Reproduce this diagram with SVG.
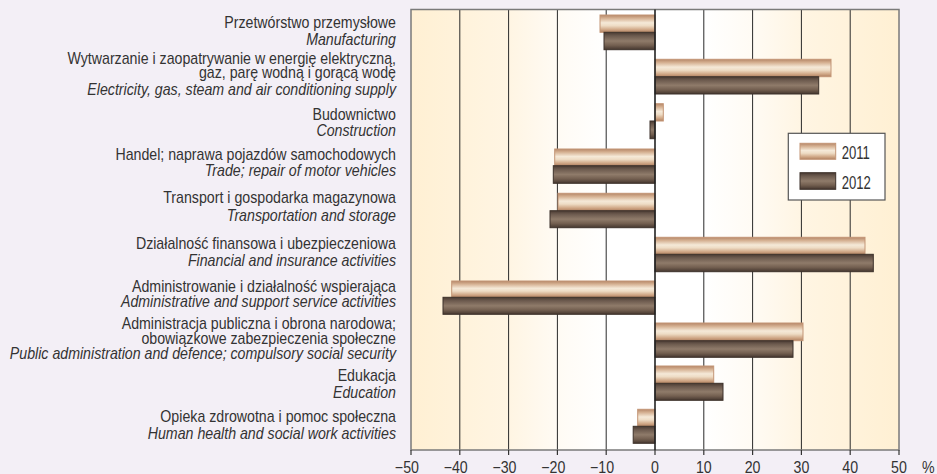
<svg xmlns="http://www.w3.org/2000/svg" width="937" height="474" viewBox="0 0 937 474">
<defs>
<linearGradient id="bg" x1="411" y1="0" x2="899" y2="0" gradientUnits="userSpaceOnUse">
<stop offset="0" stop-color="#fff0d3"/>
<stop offset="0.2" stop-color="#fff5e3"/>
<stop offset="0.3" stop-color="#fffbf4"/>
<stop offset="0.4" stop-color="#ffffff"/>
<stop offset="0.6" stop-color="#ffffff"/>
<stop offset="0.7" stop-color="#fffbf4"/>
<stop offset="0.8" stop-color="#fff5e3"/>
<stop offset="1" stop-color="#fff0d3"/>
</linearGradient>
<linearGradient id="g11" x1="0" y1="0" x2="0" y2="1">
<stop offset="0" stop-color="#b58769"/>
<stop offset="0.18" stop-color="#d4af90"/>
<stop offset="0.45" stop-color="#f5e9d8"/>
<stop offset="0.62" stop-color="#eedcc5"/>
<stop offset="0.85" stop-color="#cfa685"/>
<stop offset="1" stop-color="#b08162"/>
</linearGradient>
<linearGradient id="g12" x1="0" y1="0" x2="0" y2="1">
<stop offset="0" stop-color="#493a32"/>
<stop offset="0.2" stop-color="#6c5a4e"/>
<stop offset="0.5" stop-color="#8f7b6a"/>
<stop offset="0.75" stop-color="#735f50"/>
<stop offset="1" stop-color="#45372f"/>
</linearGradient>
<style>
.lab{font-family:"Liberation Sans",Arial,sans-serif;font-size:16px;fill:#333;text-anchor:end}
.it{font-style:italic}
.tk{font-family:"Liberation Sans",Arial,sans-serif;font-size:16px;fill:#333}
.grid{stroke:#2a2a2a;stroke-width:1}
.b11{fill:url(#g11);stroke:#c39576;stroke-width:1}
.b12{fill:url(#g12);stroke:#3d312a;stroke-width:1}
.leg{font-family:"Liberation Sans",Arial,sans-serif;font-size:17.5px;fill:#333}
</style>
</defs>
<rect x="0" y="0" width="937" height="474" fill="#f3eff6"/>
<rect x="411" y="9.5" width="488" height="440.5" fill="url(#bg)"/>
<g id="grid">
<line class="grid" x1="459.8" y1="9.5" x2="459.8" y2="450"/>
<line class="grid" x1="508.6" y1="9.5" x2="508.6" y2="450"/>
<line class="grid" x1="557.4" y1="9.5" x2="557.4" y2="450"/>
<line class="grid" x1="606.2" y1="9.5" x2="606.2" y2="450" stroke="#666"/>
<line class="grid" x1="703.8" y1="9.5" x2="703.8" y2="450" stroke="#666"/>
<line class="grid" x1="752.6" y1="9.5" x2="752.6" y2="450"/>
<line class="grid" x1="801.4" y1="9.5" x2="801.4" y2="450"/>
<line class="grid" x1="850.2" y1="9.5" x2="850.2" y2="450"/>
</g>
<rect x="411" y="9.5" width="488" height="440.5" fill="none" stroke="#7a7a7a" stroke-width="1.5"/>
<g id="bars">
<g id="manufacturing"><rect class="b11" x="600" y="15" width="55" height="17.3"/><rect class="b12" x="604" y="32.3" width="51" height="17.4"/></g>
<g id="electricity"><rect class="b11" x="655" y="59.3" width="176" height="17.4"/><rect class="b12" x="655" y="76.7" width="163.7" height="17.3"/></g>
<g id="construction"><rect class="b11" x="655" y="103.7" width="8.3" height="17.3"/><rect class="b12" x="650" y="121" width="5" height="17.7"/></g>
<g id="trade"><rect class="b11" x="554.7" y="149" width="100.3" height="16.7"/><rect class="b12" x="553.3" y="165.7" width="101.7" height="17.6"/></g>
<g id="transport"><rect class="b11" x="558" y="193.3" width="97" height="17.4"/><rect class="b12" x="550" y="210.7" width="105" height="17"/></g>
<g id="financial"><rect class="b11" x="655" y="237.3" width="210" height="17"/><rect class="b12" x="655" y="254.3" width="218.3" height="17.4"/></g>
<g id="administrative"><rect class="b11" x="451.7" y="281" width="203.3" height="16.3"/><rect class="b12" x="443" y="297.3" width="212" height="17"/></g>
<g id="public"><rect class="b11" x="655" y="323" width="148" height="17.7"/><rect class="b12" x="655" y="340.7" width="138" height="16.6"/></g>
<g id="education"><rect class="b11" x="655" y="366" width="58.7" height="17.3"/><rect class="b12" x="655" y="383.3" width="68" height="17"/></g>
<g id="health"><rect class="b11" x="637.7" y="409.3" width="17.3" height="17"/><rect class="b12" x="633.2" y="426.3" width="21.8" height="17"/></g>
</g>
<line x1="655" y1="9.5" x2="655" y2="450" stroke="#222" stroke-width="1.6"/>
<g id="axis" stroke="#333" stroke-width="1.2">
<line x1="411" y1="450" x2="411" y2="455"/>
<line x1="459.8" y1="450" x2="459.8" y2="455"/>
<line x1="508.6" y1="450" x2="508.6" y2="455"/>
<line x1="557.4" y1="450" x2="557.4" y2="455"/>
<line x1="606.2" y1="450" x2="606.2" y2="455"/>
<line x1="655" y1="450" x2="655" y2="455"/>
<line x1="703.8" y1="450" x2="703.8" y2="455"/>
<line x1="752.6" y1="450" x2="752.6" y2="455"/>
<line x1="801.4" y1="450" x2="801.4" y2="455"/>
<line x1="850.2" y1="450" x2="850.2" y2="455"/>
<line x1="899" y1="450" x2="899" y2="455"/>
</g>
<g id="ticklabels" transform="matrix(0.887 0 0 1 0 0)">
<text class="tk" text-anchor="end" x="472.3" y="473.5">−50</text>
<text class="tk" text-anchor="end" x="527.3" y="473.5">−40</text>
<text class="tk" text-anchor="end" x="582.3" y="473.5">−30</text>
<text class="tk" text-anchor="end" x="637.3" y="473.5">−20</text>
<text class="tk" text-anchor="end" x="692.3" y="473.5">−10</text>
<text class="tk" text-anchor="middle" x="738.4" y="473.5">0</text>
<text class="tk" text-anchor="middle" x="793.5" y="473.5">10</text>
<text class="tk" text-anchor="middle" x="848.5" y="473.5">20</text>
<text class="tk" text-anchor="middle" x="903.5" y="473.5">30</text>
<text class="tk" text-anchor="middle" x="958.5" y="473.5">40</text>
<text class="tk" text-anchor="middle" x="1013.5" y="473.5">50</text>
<text class="tk" text-anchor="middle" x="1046.5" y="473.5">%</text>
</g>
<g id="labels" transform="matrix(0.887 0 0 1 396 0)">
<text class="lab" x="0" y="27.8">Przetwórstwo przemysłowe</text>
<text class="lab it" x="0" y="45.5">Manufacturing</text>
<text class="lab" x="0" y="64.3">Wytwarzanie i zaopatrywanie w energię elektryczną,</text>
<text class="lab" x="0" y="78">gaz, parę wodną i gorącą wodę</text>
<text class="lab it" x="0" y="95.3">Electricity, gas, steam and air conditioning supply</text>
<text class="lab" x="0" y="120.5">Budownictwo</text>
<text class="lab it" x="0" y="135.8">Construction</text>
<text class="lab" x="0" y="160">Handel; naprawa pojazdów samochodowych</text>
<text class="lab it" x="0" y="176.2">Trade; repair of motor vehicles</text>
<text class="lab" x="0" y="203.2">Transport i gospodarka magazynowa</text>
<text class="lab it" x="0" y="220.7">Transportation and storage</text>
<text class="lab" x="0" y="248.7">Działalność finansowa i ubezpieczeniowa</text>
<text class="lab it" x="0" y="265.7">Financial and insurance activities</text>
<text class="lab" x="0" y="292.3">Administrowanie i działalność wspierająca</text>
<text class="lab it" x="0" y="307.3">Administrative and support service activities</text>
<text class="lab" x="0" y="329">Administracja publiczna i obrona narodowa;</text>
<text class="lab" x="0" y="344">obowiązkowe zabezpieczenia społeczne</text>
<text class="lab it" x="0" y="358.9">Public administration and defence; compulsory social security</text>
<text class="lab" x="0" y="380.6">Edukacja</text>
<text class="lab it" x="0" y="397.7">Education</text>
<text class="lab" x="0" y="422.3">Opieka zdrowotna i pomoc społeczna</text>
<text class="lab it" x="0" y="439">Human health and social work activities</text>
</g>
<g id="legend">
<rect x="788.3" y="133.3" width="96.7" height="66.7" fill="#fff" stroke="#555" stroke-width="1.2"/>
<rect class="b11" x="800" y="143.3" width="35.7" height="16"/>
<rect class="b12" x="800" y="172.7" width="35.7" height="16.6"/>
<g transform="matrix(0.75 0 0 1 841.7 0)">
<text class="leg" x="0" y="159.3">2011</text>
<text class="leg" x="0" y="189">2012</text>
</g>
</g>
</svg>
